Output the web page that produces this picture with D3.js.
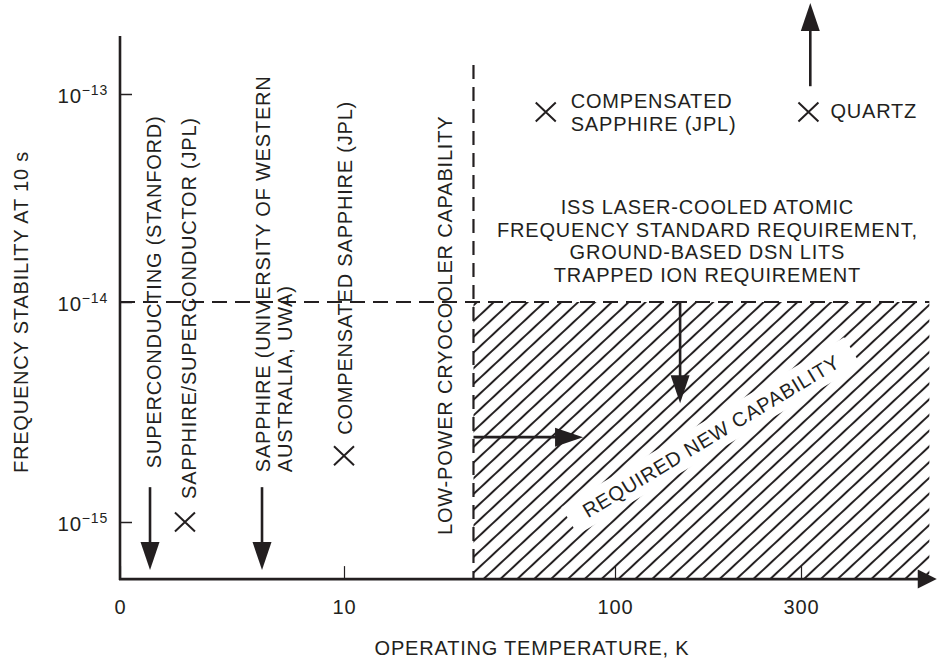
<!DOCTYPE html>
<html>
<head>
<meta charset="utf-8">
<script src="https://cdn.jsdelivr.net/npm/d3@7"></script>
<style>
  body { margin: 0; background: #fff; }
  text { font-family: "Liberation Sans", Arial, sans-serif; fill: #231f20; letter-spacing: 0.8px; }
</style>
</head>
<body>
<div id="chart"></div>
<script>
const width = 938;
const height = 660;
const ink = "#231f20";

// ---- data (temperature in K, stability at 10 s) ----
const xTicks = [0, 10, 100, 300];
const yTicks = [1e-15, 1e-14, 1e-13];
const yTickExp = ["\u221215", "\u221214", "\u221213"];
const xMax = 446;          // end of the temperature axis arrow
const yMin = 5.5e-16;      // bottom of the stability axis
const yMax = 1.9e-13;      // top of the stability axis
const cryoTemp = 53;       // low-power cryocooler capability
const stabilityReq = 1e-14;
const hatchEnd = 438;
const cryoTop = 1.38e-13;

// X markers
const crossT = [2.9, 10, 77, 308];
const crossS = [1e-15, 2e-15, 8.2e-14, 8.2e-14];

// arrows: from (t0, s0) to (t1, s1)
const arrowT0 = [1.34, 6.34, 310, 170, 53];
const arrowS0 = [1.44e-15, 1.44e-15, 1.09e-13, 1e-14, 2.43e-15];
const arrowT1 = [1.34, 6.34, 310, 170, 89.4];
const arrowS1 = [6.05e-16, 6.05e-16, 2.74e-13, 3.47e-15, 2.43e-15];

const issLines = [
  "ISS LASER-COOLED ATOMIC",
  "FREQUENCY STANDARD REQUIREMENT,",
  "GROUND-BASED DSN LITS",
  "TRAPPED ION REQUIREMENT"
];

// ---- scales ----
const x = d3.scaleLinear()
  .domain(xTicks)
  .range([120, 344, 615, 801]);

const y = d3.scaleLog()
  .domain(yTicks)
  .range([522, 302, 94]);

const svg = d3.select("#chart").append("svg")
  .attr("width", width)
  .attr("height", height);

// hatch pattern
svg.append("defs").append("pattern")
  .attr("id", "hatch")
  .attr("patternUnits", "userSpaceOnUse")
  .attr("width", 11.5)
  .attr("height", 11.5)
  .attr("patternTransform", "rotate(-43)")
  .append("line")
    .attr("x1", -1).attr("x2", 12.5)
    .attr("y1", 5.75).attr("y2", 5.75)
    .attr("stroke", ink)
    .attr("stroke-width", 2);

// required new capability region
svg.append("rect")
  .attr("x", x(cryoTemp))
  .attr("y", y(stabilityReq))
  .attr("width", x(hatchEnd) - x(cryoTemp))
  .attr("height", y(yMin) - y(stabilityReq))
  .attr("fill", "url(#hatch)");

const bandX = 711, bandY = 436;
const band = svg.append("g")
  .attr("transform", `translate(${bandX},${bandY}) rotate(-31)`);
band.append("rect")
  .attr("x", -165).attr("y", -16)
  .attr("width", 330).attr("height", 32)
  .attr("fill", "#fff");
band.append("text")
  .attr("text-anchor", "middle")
  .attr("dy", "0.36em")
  .attr("font-size", 20)
  .text("REQUIRED NEW CAPABILITY");

// dashed limits
svg.append("line")
  .attr("x1", x(0)).attr("x2", x(hatchEnd))
  .attr("y1", y(stabilityReq)).attr("y2", y(stabilityReq))
  .attr("stroke", ink).attr("stroke-width", 2.2)
  .attr("stroke-dasharray", "15,8");

svg.append("line")
  .attr("x1", x(cryoTemp)).attr("x2", x(cryoTemp))
  .attr("y1", y(cryoTop)).attr("y2", y(yMin))
  .attr("stroke", ink).attr("stroke-width", 2.2)
  .attr("stroke-dasharray", "14,8");

// ---- axes ----
const xAxis = g => g
  .attr("transform", `translate(0,${y(yMin)})`)
  .call(d3.axisBottom(x).tickValues(xTicks).tickSizeInner(-13).tickSizeOuter(0))
  .call(g => g.select(".domain").remove())
  .call(g => g.selectAll(".tick line").attr("stroke", ink).attr("stroke-width", 1.2))
  .call(g => g.selectAll(".tick text")
      .attr("y", 35).attr("dy", 0)
      .attr("font-size", 20));

const yAxis = g => g
  .attr("transform", `translate(${x(0)},0)`)
  .call(d3.axisLeft(y).tickValues(yTicks).tickSizeInner(-12).tickSizeOuter(0).tickFormat(""))
  .call(g => g.select(".domain").remove())
  .call(g => g.selectAll(".tick line").attr("stroke", ink).attr("stroke-width", 1.5))
  .call(g => g.selectAll(".tick text").remove())
  .call(g => g.selectAll(".tick").each(function(d, i) {
    const t = d3.select(this).append("text")
      .attr("x", -12).attr("y", 8)
      .attr("text-anchor", "end")
      .attr("font-size", 20.5);
    t.append("tspan").text("10");
    t.append("tspan").attr("font-size", 14).attr("dy", -8).text(yTickExp[i]);
  }));

svg.append("g").call(xAxis);
svg.append("g").call(yAxis);

// axis lines
svg.append("line")
  .attr("x1", x(0)).attr("x2", x(0))
  .attr("y1", y(yMax)).attr("y2", y(yMin) + 1)
  .attr("stroke", ink).attr("stroke-width", 2.6);

function arrow(x0, y0, x1, y1, len, w) {
  const dx = x1 - x0, dy = y1 - y0, L = Math.hypot(dx, dy);
  const ux = dx / L, uy = dy / L;
  const bx = x1 - ux * len, by = y1 - uy * len;
  svg.append("line")
    .attr("x1", x0).attr("y1", y0)
    .attr("x2", bx + ux * 2).attr("y2", by + uy * 2)
    .attr("stroke", ink).attr("stroke-width", 2.6);
  svg.append("path")
    .attr("d", `M${x1},${y1}L${bx - uy * w / 2},${by + ux * w / 2}L${bx + uy * w / 2},${by - ux * w / 2}Z`)
    .attr("fill", ink);
}

arrow(x(0) - 1, y(yMin), x(xMax), y(yMin), 19, 19);

arrowT0.forEach((t, i) => {
  arrow(x(t), y(arrowS0[i]), x(arrowT1[i]), y(arrowS1[i]), 28, 19);
});

// X markers
crossT.forEach((t, i) => {
  const cx = x(t), cy = y(crossS[i]);
  svg.append("path")
    .attr("d", `M${cx - 10},${cy - 9.5}L${cx + 10},${cy + 9.5}M${cx - 10},${cy + 9.5}L${cx + 10},${cy - 9.5}`)
    .attr("stroke", ink).attr("stroke-width", 2)
    .attr("fill", "none");
});

// ---- labels ----
function vLabel(px, py, str) {
  svg.append("text")
    .attr("transform", `translate(${px},${py}) rotate(-90)`)
    .attr("font-size", 20)
    .text(str);
}

vLabel(x(arrowT0[0]) + 11, y(arrowS0[0]) - 19, "SUPERCONDUCTING (STANFORD)");
vLabel(x(crossT[0]) + 11, y(crossS[0]) - 23, "SAPPHIRE/SUPERCONDUCTOR (JPL)");
vLabel(x(arrowT0[1]) + 8, y(arrowS0[1]) - 15, "SAPPHIRE (UNIVERSITY OF WESTERN");
vLabel(x(arrowT0[1]) + 30, y(arrowS0[1]) - 15, "AUSTRALIA, UWA)");
vLabel(x(crossT[1]) + 8, y(crossS[1]) - 21, "COMPENSATED SAPPHIRE (JPL)");
vLabel(x(cryoTemp) - 21, 535, "LOW-POWER CRYOCOOLER CAPABILITY");

svg.append("text")
  .attr("x", x(crossT[2]) + 25).attr("y", y(crossS[2]) - 4)
  .attr("font-size", 20)
  .text("COMPENSATED");
svg.append("text")
  .attr("x", x(crossT[2]) + 25).attr("y", y(crossS[2]) + 19)
  .attr("font-size", 20)
  .text("SAPPHIRE (JPL)");
svg.append("text")
  .attr("x", x(crossT[3]) + 22).attr("y", y(crossS[3]) + 6)
  .attr("font-size", 20)
  .text("QUARTZ");

svg.append("g")
  .selectAll("text")
  .data(issLines)
  .join("text")
    .attr("x", (x(cryoTemp) + x(hatchEnd)) / 2 + 6)
    .attr("y", (d, i) => y(stabilityReq) - 88 + i * 22.6)
    .attr("text-anchor", "middle")
    .attr("font-size", 20)
    .text(d => d);

// axis titles
svg.append("text")
  .attr("transform", `translate(28,312) rotate(-90)`)
  .attr("text-anchor", "middle")
  .attr("font-size", 20)
  .text("FREQUENCY STABILITY AT 10 s");

svg.append("text")
  .attr("x", 532).attr("y", 655)
  .attr("text-anchor", "middle")
  .attr("font-size", 20)
  .text("OPERATING TEMPERATURE, K");
</script>
</body>
</html>
